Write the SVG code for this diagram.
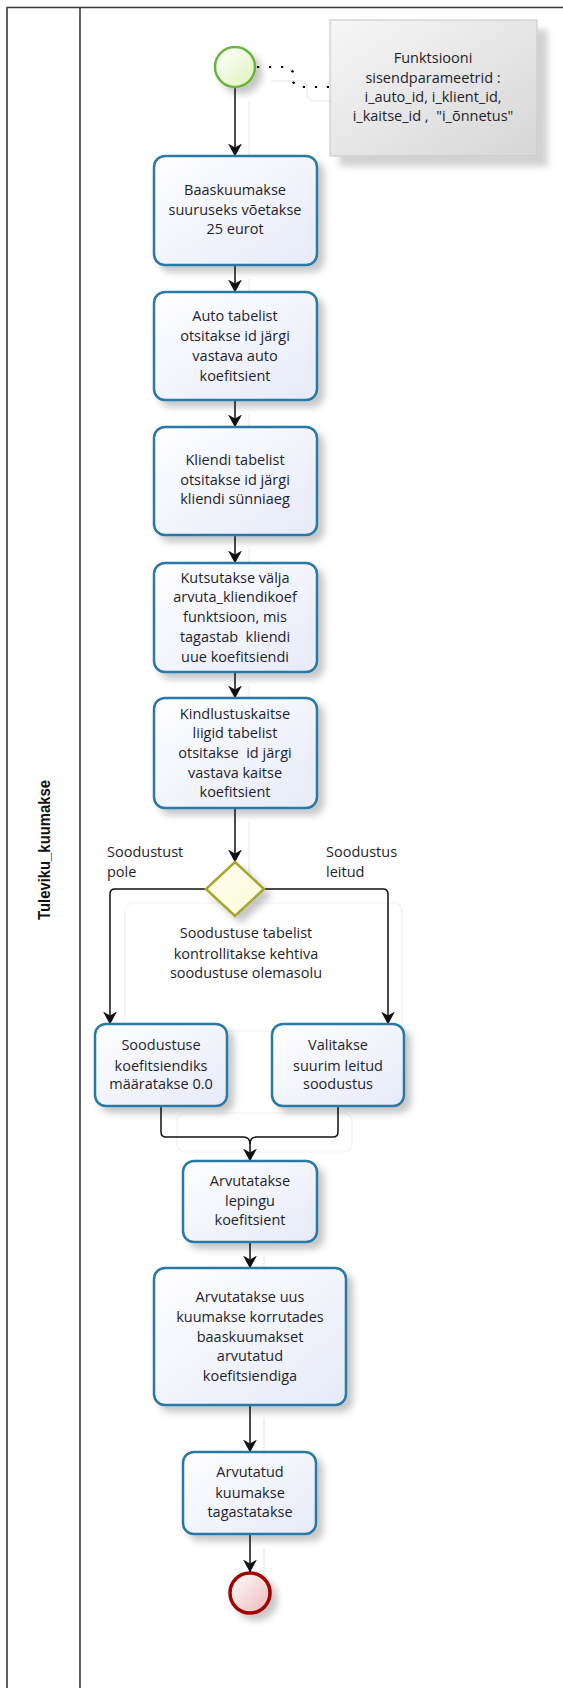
<svg xmlns="http://www.w3.org/2000/svg" xmlns:xlink="http://www.w3.org/1999/xlink" width="563" height="1688" viewBox="0 0 563 1688">
  <style>
    .lane { fill: none; stroke: #3a3a3a; stroke-width: 1.6; }
    .task { fill: url(#taskFill); stroke: #2a78a6; stroke-width: 2.5; filter: url(#shadow); }
    .txt { font-family: "Open Sans", "Noto Sans", sans-serif; font-size: 14.5px; fill: #1e1e2c; text-anchor: middle; }
    .lbl { font-family: "Open Sans", "Noto Sans", sans-serif; font-size: 14.5px; fill: #1e1e2c; }
    .flow { fill: none; stroke: #111; stroke-width: 1.5; marker-end: url(#arrow); }
    .ghost { fill: none; stroke: #eeeeee; stroke-width: 1.5; }
    .ghostbox { fill: none; stroke: #f1f1f1; stroke-width: 1.2; }
  </style>
  <defs>
    <linearGradient id="taskFill" x1="0" y1="0" x2="1" y2="1">
      <stop offset="0" stop-color="#ffffff"/>
      <stop offset="1" stop-color="#e6eaf9"/>
    </linearGradient>
    <linearGradient id="startFill" x1="0" y1="0" x2="1" y2="1">
      <stop offset="0" stop-color="#ffffff"/>
      <stop offset="1" stop-color="#dff3bd"/>
    </linearGradient>
    <linearGradient id="endFill" x1="0" y1="0" x2="1" y2="1">
      <stop offset="0" stop-color="#ffffff"/>
      <stop offset="1" stop-color="#eeb9b9"/>
    </linearGradient>
    <linearGradient id="gateFill" x1="0" y1="0" x2="1" y2="1">
      <stop offset="0" stop-color="#fffff4"/>
      <stop offset="1" stop-color="#fbfbd6"/>
    </linearGradient>
    <linearGradient id="noteFill" x1="0" y1="0" x2="1" y2="1">
      <stop offset="0" stop-color="#f7f7f7"/>
      <stop offset="1" stop-color="#d6d6d6"/>
    </linearGradient>
    <filter id="shadow" x="-20%" y="-20%" width="150%" height="150%">
      <feDropShadow dx="6" dy="6" stdDeviation="3.5" flood-color="#000" flood-opacity="0.22"/>
    </filter>
    <filter id="noteShadow" x="-20%" y="-20%" width="150%" height="150%">
      <feDropShadow dx="10" dy="10" stdDeviation="3" flood-color="#000" flood-opacity="0.18"/>
    </filter>
    <marker id="arrow" markerUnits="userSpaceOnUse" markerWidth="13" markerHeight="14" viewBox="0 0 13 14" refX="12.5" refY="7" orient="auto">
      <path d="M0,0 L13,7 L0,14 L4,7 z" fill="#111"/>
    </marker>
    <!-- connector geometry, drawn once as light offset trace and once as the real flow -->
    <path id="c1" d="M235,88 V156"/>
    <path id="c2" d="M235,265 V292"/>
    <path id="c3" d="M235,400 V427"/>
    <path id="c4" d="M235,535 V563"/>
    <path id="c5" d="M235,672 V698"/>
    <path id="c6" d="M235,808 V862"/>
    <path id="c7" d="M206,889 H115 Q110,889 110,894 V1024"/>
    <path id="c8" d="M264,889 H383 Q388,889 388,894 V1024"/>
    <path id="c9" d="M161,1106 V1132 Q161,1137 166,1137 H243 Q250,1137 250,1144 V1161"/>
    <path id="c10" d="M338,1106 V1132 Q338,1137 333,1137 H257 Q250,1137 250,1144"/>
    <path id="c11" d="M250,1242 V1268"/>
    <path id="c12" d="M250,1405 V1452"/>
    <path id="c13" d="M250,1534 V1572"/>
  </defs>

  <rect width="563" height="1688" fill="#ffffff"/>

  <!-- pool / lane frame -->
  <g id="lane">
    <path class="lane" d="M7,1688 V7.5 H563"/>
    <path class="lane" d="M80,7.5 V1688"/>
    <text transform="rotate(-90 50 850)" x="50" y="850" text-anchor="middle" font-family="'Liberation Sans', Arial, sans-serif" font-size="17" font-weight="bold" fill="#111" textLength="140" lengthAdjust="spacingAndGlyphs">Tuleviku_kuumakse</text>
  </g>

  <!-- faint traces beneath the flow -->
  <g id="traces" class="ghost" transform="translate(14 14)">
    <use xlink:href="#c1"/><use xlink:href="#c2"/><use xlink:href="#c3"/><use xlink:href="#c4"/>
    <use xlink:href="#c5"/><use xlink:href="#c6"/><use xlink:href="#c11"/><use xlink:href="#c12"/><use xlink:href="#c13"/>
    <path d="M257,67 H288 L293,72 V82 L298,87 H316"/>
  </g>
  <g id="label-frames" class="ghostbox">
    <rect x="125" y="903" width="277" height="128" rx="8"/>
    <rect x="177" y="1113" width="175" height="39" rx="8"/>
  </g>

  <!-- sequence flows -->
  <g id="connectors">
    <g class="flow">
      <use xlink:href="#c1"/><use xlink:href="#c2"/><use xlink:href="#c3"/><use xlink:href="#c4"/>
      <use xlink:href="#c5"/><use xlink:href="#c6"/><use xlink:href="#c7"/><use xlink:href="#c8"/>
      <use xlink:href="#c9"/><use xlink:href="#c11"/><use xlink:href="#c12"/><use xlink:href="#c13"/>
    </g>
    <use xlink:href="#c10" fill="none" stroke="#111" stroke-width="1.5"/>
    <!-- association to the annotation -->
    <path d="M257,67 H288 L293,72 V82 L298,87 H330" fill="none" stroke="#000" stroke-width="2.2" stroke-dasharray="2.2 9.8"/>
    <text class="lbl" x="107" y="857">Soodustust</text>
    <text class="lbl" x="107" y="877">pole</text>
    <text class="lbl" x="326" y="857">Soodustus</text>
    <text class="lbl" x="326" y="877">leitud</text>
  </g>

  <g id="start">
    <circle cx="235" cy="67" r="20" fill="url(#startFill)" stroke="#6cb33e" stroke-width="2.5" filter="url(#shadow)"/>
  </g>

  <g id="note">
    <rect x="330" y="20" width="207" height="136" fill="url(#noteFill)" stroke="#c4c4c4" stroke-width="1" filter="url(#noteShadow)"/>
    <text class="txt" x="433" y="63">Funktsiooni</text>
    <text class="txt" x="433" y="83">sisendparameetrid :</text>
    <text class="txt" x="433" y="102">i_auto_id, i_klient_id,</text>
    <text class="txt" x="433" y="121" xml:space="preserve">i_kaitse_id ,  "i_õnnetus"</text>
  </g>

  <g id="task-baas">
    <rect class="task" x="154" y="156" width="163" height="109" rx="11"/>
    <text class="txt" x="235" y="195">Baaskuumakse</text>
    <text class="txt" x="235" y="215">suuruseks võetakse</text>
    <text class="txt" x="235" y="234">25 eurot</text>
  </g>

  <g id="task-auto">
    <rect class="task" x="154" y="292" width="163" height="108" rx="11"/>
    <text class="txt" x="235" y="321">Auto tabelist</text>
    <text class="txt" x="235" y="341">otsitakse id järgi</text>
    <text class="txt" x="235" y="361">vastava auto</text>
    <text class="txt" x="235" y="381">koefitsient</text>
  </g>

  <g id="task-klient">
    <rect class="task" x="154" y="427" width="163" height="108" rx="11"/>
    <text class="txt" x="235" y="465">Kliendi tabelist</text>
    <text class="txt" x="235" y="485">otsitakse id järgi</text>
    <text class="txt" x="235" y="504">kliendi sünniaeg</text>
  </g>

  <g id="task-kliendikoef">
    <rect class="task" x="154" y="563" width="163" height="109" rx="11"/>
    <text class="txt" x="235" y="583">Kutsutakse välja</text>
    <text class="txt" x="235" y="602">arvuta_kliendikoef</text>
    <text class="txt" x="235" y="622" xml:space="preserve">funktsioon, mis</text>
    <text class="txt" x="235" y="642" xml:space="preserve">tagastab  kliendi</text>
    <text class="txt" x="235" y="662">uue koefitsiendi</text>
  </g>

  <g id="task-kaitse">
    <rect class="task" x="154" y="698" width="163" height="110" rx="11"/>
    <text class="txt" x="235" y="719">Kindlustuskaitse</text>
    <text class="txt" x="235" y="738">liigid tabelist</text>
    <text class="txt" x="235" y="758" xml:space="preserve">otsitakse  id järgi</text>
    <text class="txt" x="235" y="778">vastava kaitse</text>
    <text class="txt" x="235" y="797">koefitsient</text>
  </g>

  <g id="gateway">
    <path d="M235,862 L264,889 L235,916 L206,889 z" fill="url(#gateFill)" stroke="#a6a62c" stroke-width="2.5" stroke-linejoin="miter" filter="url(#shadow)"/>
    <text class="txt" x="246" y="938">Soodustuse tabelist</text>
    <text class="txt" x="246" y="959">kontrollitakse kehtiva</text>
    <text class="txt" x="246" y="978">soodustuse olemasolu</text>
  </g>

  <g id="task-pole">
    <rect class="task" x="95" y="1024" width="132" height="82" rx="11"/>
    <text class="txt" x="161" y="1050">Soodustuse</text>
    <text class="txt" x="161" y="1071">koefitsiendiks</text>
    <text class="txt" x="161" y="1089">määratakse 0.0</text>
  </g>

  <g id="task-leitud">
    <rect class="task" x="272" y="1024" width="132" height="82" rx="11"/>
    <text class="txt" x="338" y="1050">Valitakse</text>
    <text class="txt" x="338" y="1071">suurim leitud</text>
    <text class="txt" x="338" y="1089">soodustus</text>
  </g>

  <g id="task-leping">
    <rect class="task" x="183" y="1161" width="134" height="81" rx="11"/>
    <text class="txt" x="250" y="1186">Arvutatakse</text>
    <text class="txt" x="250" y="1206">lepingu</text>
    <text class="txt" x="250" y="1225">koefitsient</text>
  </g>

  <g id="task-uus">
    <rect class="task" x="154" y="1268" width="192" height="137" rx="11"/>
    <text class="txt" x="250" y="1302">Arvutatakse uus</text>
    <text class="txt" x="250" y="1322">kuumakse korrutades</text>
    <text class="txt" x="250" y="1342">baaskuumakset</text>
    <text class="txt" x="250" y="1361">arvutatud</text>
    <text class="txt" x="250" y="1381">koefitsiendiga</text>
  </g>

  <g id="task-tagasta">
    <rect class="task" x="183" y="1452" width="133" height="82" rx="11"/>
    <text class="txt" x="250" y="1477">Arvutatud</text>
    <text class="txt" x="250" y="1498">kuumakse</text>
    <text class="txt" x="250" y="1517">tagastatakse</text>
  </g>

  <g id="end">
    <circle cx="250" cy="1593" r="20" fill="url(#endFill)" stroke="#a30000" stroke-width="3.5" filter="url(#shadow)"/>
  </g>
</svg>
